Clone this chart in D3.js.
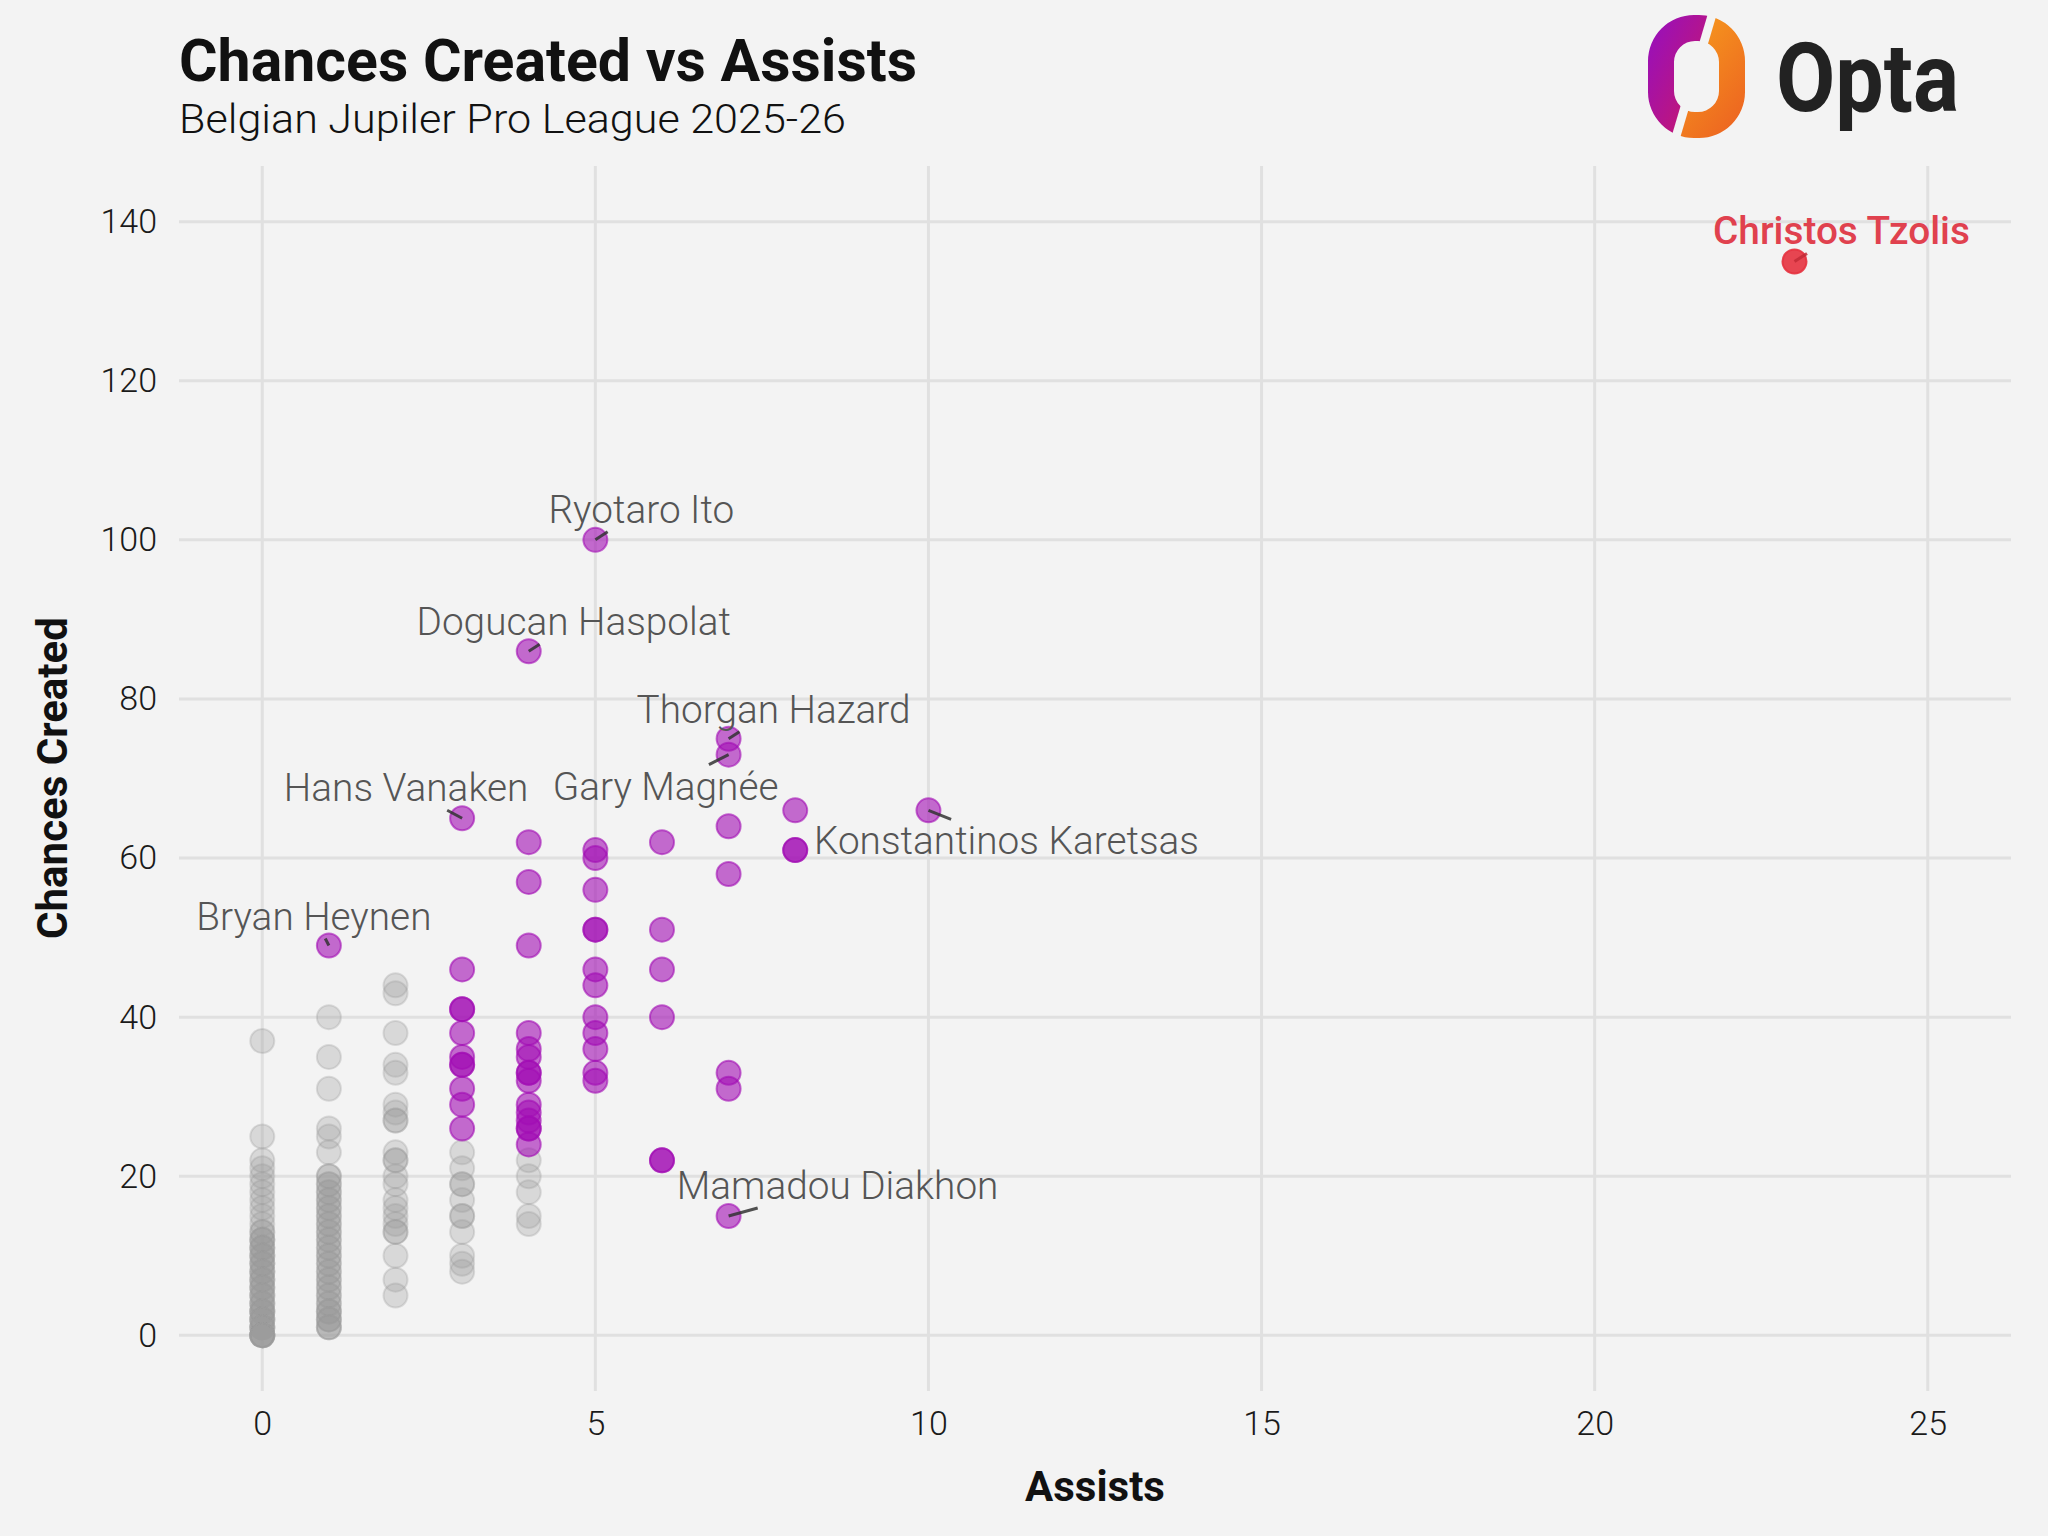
<!DOCTYPE html>
<html>
<head>
<meta charset="utf-8">
<script src="https://cdn.jsdelivr.net/npm/d3@7"></script>
<style>
  body { margin: 0; background: #f3f3f3; }
  text { font-family: "Roboto", "Noto Sans", sans-serif; }
</style>
</head>
<body>
<div id="chart"></div>
<script>
// axis ticks
var xTicks = [0, 5, 10, 15, 20, 25];
var yTicks = [0, 20, 40, 60, 80, 100, 120, 140];

// other players (grey), chances created grouped by assists
var greyAssists = [0, 1, 2, 3, 4];
var greyChances = [
  [37, 25, 22, 21, 20, 19, 18, 17, 16, 15, 14, 13, 13, 12, 12, 12, 11, 11, 11, 10, 10, 10, 9, 9, 9, 8, 8, 8,
    7, 7, 7, 6, 6, 6, 5, 5, 5, 4, 4, 4, 3, 3, 3, 3, 2, 2, 2, 2, 1, 1, 1, 1, 0, 0, 0, 0, 0, 0, 0],
  [40, 35, 31, 26, 25, 23, 20, 20, 19, 19, 18, 18, 17, 17, 16, 16, 15, 15, 14, 14, 13, 13, 12, 12, 11, 11,
    10, 10, 9, 9, 8, 8, 7, 7, 6, 6, 5, 5, 4, 4, 3, 3, 3, 2, 2, 2, 1, 1, 1],
  [44, 43, 38, 34, 33, 29, 28, 27, 27, 23, 22, 22, 20, 19, 17, 16, 15, 14, 13, 13, 10, 7, 5],
  [23, 21, 19, 19, 17, 15, 15, 13, 10, 9, 8],
  [22, 20, 18, 15, 14]
];

// highlighted players (purple)
var purpleAssists = [1, 3, 4, 5, 6, 7, 8, 10];
var purpleChances = [
  [49],
  [65, 46, 41, 41, 38, 35, 34, 34, 31, 29, 26],
  [86, 62, 57, 49, 38, 36, 35, 33, 33, 32, 29, 28, 27, 26, 26, 24],
  [100, 61, 60, 56, 51, 51, 46, 44, 40, 38, 36, 33, 32],
  [62, 51, 46, 40, 22, 22],
  [75, 73, 64, 58, 33, 31, 15],
  [66, 61, 61],
  [66]
];

// top player (red)
var topAssists = [23];
var topChances = [135];

// labelled players
var labelNames = ["Christos Tzolis", "Ryotaro Ito", "Dogucan Haspolat", "Thorgan Hazard", "Gary Magnée",
  "Hans Vanaken", "Konstantinos Karetsas", "Bryan Heynen", "Mamadou Diakhon"];
var labelAssists = [23, 5, 4, 7, 7, 3, 10, 1, 7];
var labelChances = [135, 100, 86, 75, 73, 65, 66, 49, 15];
// where the repel step put each label, relative to its point (px)
var labelShift = [[47, -17], [46, -17], [45, -16], [45, -16], [-63, 45], [-56, -17], [78, 44], [-15, -16], [109, -17]];

var W = 2048, H = 1536;

var svg = d3.select("#chart")
  .append("svg")
  .attr("width", W)
  .attr("height", H);

svg.append("rect")
  .attr("width", W)
  .attr("height", H)
  .attr("fill", "#f3f3f3");

var x = d3.scaleLinear().domain([-1.25, 26.25]).range([179, 2011]);
var y = d3.scaleLinear().domain([-7, 147]).range([1391, 166]);

// stretch / squeeze a text horizontally
function squeeze(sel, k) {
  sel.each(function () {
    var len = this.getComputedTextLength();
    d3.select(this).attr("textLength", len * k).attr("lengthAdjust", "spacingAndGlyphs");
  });
}

// grid
svg.append("g")
  .selectAll("line")
  .data(yTicks)
  .enter()
  .append("line")
  .attr("x1", x.range()[0])
  .attr("x2", x.range()[1])
  .attr("y1", function (d) { return y(d) })
  .attr("y2", function (d) { return y(d) })
  .attr("stroke", "#e0e0e0")
  .attr("stroke-width", 3);

svg.append("g")
  .selectAll("line")
  .data(xTicks)
  .enter()
  .append("line")
  .attr("y1", y.range()[0])
  .attr("y2", y.range()[1])
  .attr("x1", function (d) { return x(d) })
  .attr("x2", function (d) { return x(d) })
  .attr("stroke", "#e0e0e0")
  .attr("stroke-width", 3);

// axes (text only)
var xAxis = svg.append("g")
  .attr("transform", "translate(0," + (y.range()[0] + 6) + ")")
  .call(d3.axisBottom(x).tickValues(xTicks).tickSize(0).tickPadding(14));
var yAxis = svg.append("g")
  .attr("transform", "translate(" + (x.range()[0] - 6) + ",0)")
  .call(d3.axisLeft(y).tickValues(yTicks).tickSize(0).tickPadding(16));
[xAxis, yAxis].forEach(function (a) {
  a.select(".domain").remove();
  a.selectAll("text")
    .attr("font-family", "Roboto")
    .attr("font-size", 34)
    .attr("font-weight", 300)
    .attr("fill", "#1a1a1a");
});

// axis titles
svg.append("text")
  .attr("x", 1095)
  .attr("y", 1501)
  .attr("text-anchor", "middle")
  .attr("font-size", 42)
  .attr("font-weight", 700)
  .attr("fill", "#111")
  .text("Assists");

svg.append("text")
  .attr("transform", "translate(67,778) rotate(-90)")
  .attr("text-anchor", "middle")
  .attr("font-size", 42)
  .attr("font-weight", 700)
  .attr("fill", "#111")
  .text("Chances Created");

// flatten grouped data
function flatten(assists, chances) {
  var out = [];
  assists.forEach(function (a, i) {
    chances[i].forEach(function (c) { out.push({ assists: a, chances: c }); });
  });
  return out;
}
var greyData = flatten(greyAssists, greyChances);
var purpleData = flatten(purpleAssists, purpleChances);
var topData = flatten(topAssists, [topChances]);

function dots(data, col, fillOp, strokeOp) {
  svg.append("g")
    .selectAll("circle")
    .data(data)
    .enter()
    .append("circle")
    .attr("cx", function (d) { return x(d.assists) })
    .attr("cy", function (d) { return y(d.chances) })
    .attr("r", 12)
    .attr("fill", col)
    .attr("fill-opacity", fillOp)
    .attr("stroke", col)
    .attr("stroke-opacity", strokeOp)
    .attr("stroke-width", 2);
}
dots(greyData, "#9a9a9a", 0.3, 0.3);
dots(purpleData, "#a20db4", 0.6, 0.6);
dots(topData, "#e5323f", 0.9, 0.9);

// labels + short repel segments
var labels = labelNames.map(function (n, i) {
  return { name: n, assists: labelAssists[i], chances: labelChances[i], shift: labelShift[i], top: i === 0 };
});

var segG = svg.append("g");
var labG = svg.append("g");

labels.forEach(function (d) {
  var px = x(d.assists), py = y(d.chances);
  var t = labG.append("text")
    .attr("x", px + d.shift[0])
    .attr("y", py + d.shift[1])
    .attr("text-anchor", "middle")
    .attr("font-size", 38)
    .attr("font-weight", d.top ? 500 : 300)
    .attr("fill", d.top ? "#e0414e" : "#555")
    .text(d.name)
    .call(squeeze, 1.02);

  // segment from point centre towards the label centre, stopped at its box
  var b = t.node().getBBox();
  var cx = b.x + b.width / 2, cy = b.y + b.height / 2;
  var dx = cx - px, dy = cy - py;
  var tx = dx === 0 ? Infinity : Math.abs((b.width / 2) / dx);
  var ty = dy === 0 ? Infinity : Math.abs((b.height / 2) / dy);
  var s = 1 - Math.min(tx, ty);
  if (s > 0) {
    segG.append("line")
      .attr("x1", px)
      .attr("y1", py)
      .attr("x2", px + dx * s)
      .attr("y2", py + dy * s)
      .attr("stroke", d.top ? "#c22a36" : "#333")
      .attr("stroke-opacity", 0.85)
      .attr("stroke-width", 3);
  }
});

// title
svg.append("text")
  .attr("x", 179)
  .attr("y", 81)
  .attr("font-size", 60)
  .attr("font-weight", 700)
  .attr("fill", "#111")
  .attr("textLength", 738)
  .attr("lengthAdjust", "spacingAndGlyphs")
  .text("Chances Created vs Assists");

svg.append("text")
  .attr("x", 179)
  .attr("y", 133)
  .attr("font-size", 40)
  .attr("font-weight", 300)
  .attr("fill", "#111")
  .attr("textLength", 667)
  .attr("lengthAdjust", "spacingAndGlyphs")
  .text("Belgian Jupiler Pro League 2025-26");

// Opta logo
var defs = svg.append("defs");
var g1 = defs.append("linearGradient").attr("id", "optaL")
  .attr("x1", "0%").attr("y1", "20%").attr("x2", "100%").attr("y2", "80%");
g1.append("stop").attr("offset", "0%").attr("stop-color", "#9a10b8");
g1.append("stop").attr("offset", "100%").attr("stop-color", "#dc1a4c");
var g2 = defs.append("linearGradient").attr("id", "optaR")
  .attr("x1", "0%").attr("y1", "0%").attr("x2", "100%").attr("y2", "100%");
g2.append("stop").attr("offset", "0%").attr("stop-color", "#f9ab1c");
g2.append("stop").attr("offset", "100%").attr("stop-color", "#ec5f21");

var lx0 = 1648, ly0 = 15, lw = 97, lh = 123, ring = 26;
function roundRect(x0, y0, w, h, r) {
  var p = d3.path();
  p.moveTo(x0 + r, y0);
  p.lineTo(x0 + w - r, y0);
  p.arcTo(x0 + w, y0, x0 + w, y0 + r, r);
  p.lineTo(x0 + w, y0 + h - r);
  p.arcTo(x0 + w, y0 + h, x0 + w - r, y0 + h, r);
  p.lineTo(x0 + r, y0 + h);
  p.arcTo(x0, y0 + h, x0, y0 + h - r, r);
  p.lineTo(x0, y0 + r);
  p.arcTo(x0, y0, x0 + r, y0, r);
  p.closePath();
  return p.toString();
}
var ringPath = roundRect(lx0, ly0, lw, lh, 46) + roundRect(lx0 + ring, ly0 + ring, lw - 2 * ring, lh - 2 * ring, 21);

// slanted cut through the ring
function cutX(yy) { return 1712 - 0.296 * (yy - 15); }
var gap = 4.5;
defs.append("clipPath").attr("id", "clipL").append("polygon")
  .attr("points", [[1600, 0], [cutX(0) - gap, 0], [cutX(160) - gap, 160], [1600, 160]].join(" "));
defs.append("clipPath").attr("id", "clipR").append("polygon")
  .attr("points", [[cutX(0) + gap, 0], [1800, 0], [1800, 160], [cutX(160) + gap, 160]].join(" "));

svg.append("path").attr("d", ringPath).attr("fill-rule", "evenodd")
  .attr("fill", "url(#optaL)").attr("clip-path", "url(#clipL)");
svg.append("path").attr("d", ringPath).attr("fill-rule", "evenodd")
  .attr("fill", "url(#optaR)").attr("clip-path", "url(#clipR)");

svg.append("text")
  .attr("x", 1776)
  .attr("y", 111)
  .attr("font-size", 96)
  .attr("font-weight", 700)
  .attr("fill", "#222")
  .attr("textLength", 183)
  .attr("lengthAdjust", "spacingAndGlyphs")
  .text("Opta");
</script>
</body>
</html>
